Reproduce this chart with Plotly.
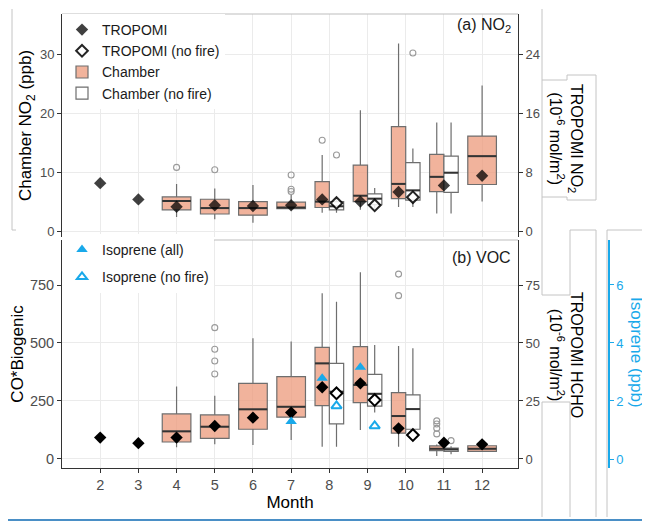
import plotly.graph_objects as go

# ---------------- DATA ----------------
months = [2, 3, 4, 5, 6, 7, 8, 9, 10, 11, 12]
month_ticks = [2, 3, 4, 5, 6, 7, 8, 9, 10, 11, 12]

# (a) NO2 chamber boxes (ppb)
no2_box_months = [4, 5, 6, 7, 8, 9, 10, 11, 12]
no2_lf = [2.4, 2.0, 1.4, 3.6, 3.1, 3.6, 4.1, 3.0, 5.0]
no2_q1 = [3.6, 2.9, 2.7, 3.8, 4.0, 5.0, 5.5, 6.7, 7.9]
no2_med = [5.1, 3.9, 3.9, 4.0, 5.0, 6.0, 8.0, 9.2, 12.7]
no2_q3 = [5.8, 5.4, 5.0, 4.9, 8.4, 11.2, 17.7, 13.0, 16.1]
no2_uf = [8.0, 7.2, 7.8, 6.1, 12.9, 20.5, 31.8, 18.4, 24.7]
no2_out_months = [4, 5, 7, 7, 7, 8]
no2_out_vals = [10.8, 10.4, 9.5, 7.1, 6.7, 15.4]

no2_nf_months = [8, 9, 10, 11]
no2_nf_lf = [3.1, 3.8, 4.1, 3.0]
no2_nf_q1 = [3.6, 4.5, 5.25, 6.55]
no2_nf_med = [4.2, 5.5, 6.9, 9.9]
no2_nf_q3 = [5.0, 6.3, 11.6, 12.7]
no2_nf_uf = [5.6, 7.3, 14.0, 18.4]
no2_nf_out_months = [8, 10]
no2_nf_out_vals = [12.9, 30.2]

# TROPOMI NO2 (1e-6 mol/m2)
trop_no2 = [6.5, 4.3, 3.3, 3.5, 3.4, 3.5, 4.3, 4.0, 5.3, 6.2, 7.5]
trop_nf_months = [8, 9, 10]
trop_no2_nf = [3.8, 3.5, 4.6]

# (b) VOC chamber boxes (CO*Biogenic)
voc_box_months = [4, 5, 6, 7, 8, 9, 10, 11, 12]
voc_lf = [50, 63, 60, 82, 53, 125, 53, 13, 30]
voc_q1 = [73, 89, 128, 180, 230, 243, 111, 36, 33]
voc_med = [119, 139, 214, 225, 412, 319, 185, 44, 44]
voc_q3 = [194, 190, 326, 355, 481, 484, 286, 56, 57]
voc_uf = [312, 273, 520, 506, 714, 805, 487, 62, 62]
voc_out_months = [5, 5, 5, 5, 10, 10, 11, 11, 11, 11]
voc_out_vals = [566, 473, 422, 366, 797, 704, 164, 151, 132, 108]

voc_nf_months = [8, 9, 10, 11]
voc_nf_lf = [53, 200, 110, 20]
voc_nf_q1 = [151, 228, 128, 33]
voc_nf_med = [290, 281, 215, 41]
voc_nf_q3 = [412, 365, 276, 47]
voc_nf_uf = [678, 491, 477, 55]
voc_nf_out_months = [11]
voc_nf_out_vals = [79]

# TROPOMI HCHO (1e-6 mol/m2)
trop_hcho = [9.2, 6.8, 9.2, 14.2, 17.8, 20.0, 30.9, 32.6, 13.2, 7.0, 6.3]
trop_hcho_nf = [28.3, 25.4, 10.3]

# Isoprene (ppb)
iso_months = [7, 8, 9]
iso_all = [1.29, 2.78, 3.16]
iso_nf_months = [8, 9]
iso_nf = [1.83, 1.14]

# ---------------- LAYOUT HELPERS ----------------
# page has an 8px body margin; figure is sized to fill the rest of the window
W, H = 642, 514
ML, MR, MT, MB = 54, 10, 6, 54
PW, PH = W - ML - MR, H - MT - MB


def px_x(px):  # page pixel -> paper coordinate
    return (px - 8 - ML) / PW


def px_y(py):
    return (H - MB - (py - 8)) / PH


XEND = px_x(518)
DODGE = 0.1875
BLUE = "#19a9ea"
CHAMBER_FILL = "rgba(236,150,118,0.72)"
BOX_LINE = "#6e6e6e"
OUT_COLOR = "#9a9a9a"
FONT = "Liberation Sans, Arial, sans-serif"

fig = go.Figure()


def dodge(ms, pair, side):
    return [m + side * DODGE if m in pair else m for m in ms]


def add_boxes(ms, lf, q1, med, q3, uf, pair, side, fill, xa, ya, name, rank, legend):
    first = True
    for want_pair, w in ((True, 0.375), (False, 0.75)):
        idx = [i for i, m in enumerate(ms) if (m in pair) == want_pair]
        if not idx:
            continue
        xs = [ms[i] + (side * DODGE if want_pair else 0) for i in idx]
        fig.add_trace(go.Box(
            x=xs, q1=[q1[i] for i in idx], median=[med[i] for i in idx],
            q3=[q3[i] for i in idx], lowerfence=[lf[i] for i in idx],
            upperfence=[uf[i] for i in idx], width=w, whiskerwidth=0,
            fillcolor=fill, line=dict(color=BOX_LINE, width=1.2),
            boxpoints=False, name=name, xaxis=xa, yaxis=ya,
            showlegend=(first and legend), legendrank=rank, legend="legend",
            hoverinfo="skip"))
        first = False
        # darker median lines
        mx, my = [], []
        for j, i in enumerate(idx):
            mx += [xs[j] - w / 2, xs[j] + w / 2, None]
            my += [med[i], med[i], None]
        fig.add_trace(go.Scatter(x=mx, y=my, mode="lines", xaxis=xa, yaxis=ya,
                                 line=dict(color="#333333", width=2),
                                 showlegend=False, hoverinfo="skip"))


def add_outliers(ms, vals, pair, side, xa, ya):
    fig.add_trace(go.Scatter(
        x=dodge(ms, pair, side), y=vals, mode="markers", xaxis=xa, yaxis=ya,
        marker=dict(symbol="circle-open", size=6, color=OUT_COLOR, line=dict(width=1.1)),
        showlegend=False, hoverinfo="skip"))


# ---- panel (a) ----
add_boxes(no2_box_months, no2_lf, no2_q1, no2_med, no2_q3, no2_uf, no2_nf_months, -1,
          CHAMBER_FILL, "x2", "y2", "Chamber", 3, True)
add_boxes(no2_nf_months, no2_nf_lf, no2_nf_q1, no2_nf_med, no2_nf_q3, no2_nf_uf, no2_nf_months, 1,
          "white", "x2", "y2", "Chamber (no fire)", 4, True)
add_outliers(no2_out_months, no2_out_vals, no2_nf_months, -1, "x2", "y2")
add_outliers(no2_nf_out_months, no2_nf_out_vals, no2_nf_months, 1, "x2", "y2")

fig.add_trace(go.Scatter(
    x=dodge(months, trop_nf_months, -1), y=trop_no2, mode="markers", xaxis="x2", yaxis="y4",
    marker=dict(symbol="diamond", size=9.5, color="black", opacity=0.75, line=dict(width=0)),
    name="TROPOMI", legend="legend", legendrank=1, hoverinfo="skip"))
fig.add_trace(go.Scatter(
    x=dodge(trop_nf_months, trop_nf_months, 1), y=trop_no2_nf, mode="markers", xaxis="x2", yaxis="y4",
    marker=dict(symbol="diamond", size=9, color="white", opacity=0.85,
                line=dict(color="black", width=2)),
    name="TROPOMI (no fire)", legend="legend", legendrank=2, hoverinfo="skip"))

# ---- panel (b) ----
add_boxes(voc_box_months, voc_lf, voc_q1, voc_med, voc_q3, voc_uf, voc_nf_months, -1,
          CHAMBER_FILL, "x", "y", "Chamber", 3, False)
add_boxes(voc_nf_months, voc_nf_lf, voc_nf_q1, voc_nf_med, voc_nf_q3, voc_nf_uf, voc_nf_months, 1,
          "white", "x", "y", "Chamber (no fire)", 4, False)
add_outliers(voc_out_months, voc_out_vals, voc_nf_months, -1, "x", "y")
add_outliers(voc_nf_out_months, voc_nf_out_vals, voc_nf_months, 1, "x", "y")

fig.add_trace(go.Scatter(
    x=dodge(months, trop_nf_months, -1), y=trop_hcho, mode="markers", xaxis="x", yaxis="y3",
    marker=dict(symbol="diamond", size=9.5, color="black", line=dict(width=0)),
    showlegend=False, hoverinfo="skip"))
fig.add_trace(go.Scatter(
    x=dodge(trop_nf_months, trop_nf_months, 1), y=trop_hcho_nf, mode="markers", xaxis="x", yaxis="y3",
    marker=dict(symbol="diamond", size=9, color="white", line=dict(color="black", width=2)),
    showlegend=False, hoverinfo="skip"))

fig.add_trace(go.Scatter(
    x=dodge(iso_months, iso_nf_months, -1), y=iso_all, mode="markers", xaxis="x", yaxis="y5",
    marker=dict(symbol="triangle-up", size=10, color=BLUE, line=dict(width=0)),
    name="Isoprene (all)", legend="legend2", legendgroup="a", hoverinfo="skip"))
fig.add_trace(go.Scatter(
    x=dodge(iso_nf_months, iso_nf_months, 1), y=iso_nf, mode="markers", xaxis="x", yaxis="y5",
    marker=dict(symbol="triangle-up-open", size=9, color=BLUE, line=dict(width=2, color=BLUE)),
    name="Isoprene (no fire)", legend="legend2", legendgroup="b", hoverinfo="skip"))

# ---------------- AXES ----------------
GRID = "#ebebeb"
TICKC = "#4d4d4d"
common_x = dict(domain=[0, XEND], range=[1.0, 12.94], tickvals=month_ticks, automargin=False,
                showgrid=True, gridcolor=GRID, gridwidth=1, zeroline=False)

axis_title_font = dict(family=FONT, size=17, color="black")
ytick = dict(showline=True, linecolor="#333333", ticks="outside", ticklen=4, tickcolor="#333333",
             zeroline=False, automargin=False)

fig.update_layout(
    width=W, height=H,
    margin=dict(l=ML, r=MR, t=MT, b=MB, autoexpand=False),
    paper_bgcolor="white", plot_bgcolor="white",
    font=dict(family=FONT, color="black"),
    xaxis=dict(**common_x, anchor="y", showline=True, linecolor="#333333", linewidth=1,
               ticks="outside", ticklen=4, tickcolor="#333333",
               tickfont=dict(size=14.5, color=TICKC),
               title=dict(text="Month", font=axis_title_font, standoff=0)),
    xaxis2=dict(**common_x, anchor="y2", matches="x", showticklabels=False, ticks="",
                showline=False),
    yaxis=dict(domain=[0, px_y(240)], anchor="x", range=[-39, 944],
               tickvals=[0, 250, 500, 750], showgrid=True, gridcolor=GRID, **ytick,
               tickfont=dict(size=14.5, color=TICKC),
               title=dict(text="CO*Biogenic", font=axis_title_font, standoff=2)),
    yaxis2=dict(domain=[px_y(237), 1], anchor="x2", range=[-1.0, 36.8],
                tickvals=[0, 10, 20, 30], showgrid=True, gridcolor=GRID, **ytick,
                tickfont=dict(size=13, color=TICKC),
                title=dict(text="Chamber NO<sub>2</sub> (ppb)", font=axis_title_font, standoff=3)),
    yaxis3=dict(overlaying="y", side="right", anchor="x", range=[-3.9, 94.4],
                tickvals=[0, 25, 50, 75], showgrid=False, **ytick,
                tickfont=dict(size=13, color=TICKC)),
    yaxis4=dict(overlaying="y2", side="right", anchor="x2", range=[-0.8, 29.44],
                tickvals=[0, 8, 16, 24], showgrid=False, **ytick,
                tickfont=dict(size=13, color=TICKC)),
    yaxis5=dict(overlaying="y", side="right", anchor="free", position=px_x(609),
                range=[-0.31, 7.55], tickvals=[0, 2, 4, 6], showgrid=False, zeroline=False,
                automargin=False,
                showline=True, linecolor=BLUE, linewidth=1.5, ticks="outside", ticklen=4,
                tickcolor=BLUE, tickfont=dict(size=13, color=BLUE)),
    legend=dict(x=0.0, y=1.0, xanchor="left", yanchor="top", bgcolor="white",
                font=dict(size=14, color="#1a1a1a"), tracegroupgap=0, itemsizing="trace",
                traceorder="normal"),
    legend2=dict(x=0.0, y=px_y(234), xanchor="left", yanchor="top", bgcolor="white",
                 font=dict(size=14, color="#1a1a1a"), tracegroupgap=6),
    boxmode="overlay",
)

# panel labels & right titles
ann = [
    dict(text="(a) NO<sub>2</sub>", x=px_x(513), y=px_y(26), xanchor="right", yanchor="middle",
         font=dict(size=16, color="#1a1a1a")),
    dict(text="(b) VOC", x=px_x(513), y=px_y(257), xanchor="right", yanchor="middle",
         font=dict(size=16, color="#1a1a1a")),
    dict(text="TROPOMI NO<sub>2</sub><br>(10<sup>-6</sup> mol/m<sup>2</sup>)", x=px_x(566), y=px_y(138),
         textangle=90, font=dict(size=16, color="black"), xanchor="center", yanchor="middle"),
    dict(text="TROPOMI HCHO<br>(10<sup>-6</sup> mol/m<sup>2</sup>)", x=px_x(566), y=px_y(355),
         textangle=90, font=dict(size=16, color="black"), xanchor="center", yanchor="middle"),
    dict(text="Isoprene (ppb)", x=px_x(637), y=px_y(352), textangle=90,
         font=dict(size=17, color=BLUE), xanchor="center", yanchor="middle"),
]
for a in ann:
    a.update(xref="paper", yref="paper", showarrow=False)
fig.update_layout(annotations=ann)

# frame lines and leftover decoration lines
shapes = []


def seg(x0, y0, x1, y1, color="#c4c4c4", width=1):
    shapes.append(dict(type="line", xref="paper", yref="paper",
                       x0=px_x(x0), y0=px_y(y0), x1=px_x(x1), y1=px_y(y1),
                       line=dict(color=color, width=width), layer="above"))


seg(62, 14, 518, 14, "#bdbdbd")
seg(62, 240, 518, 240, "#bdbdbd")
for s in [(542, 9, 542, 295), (542, 80, 567, 80), (567, 75, 596, 75), (567, 75, 567, 80),
          (596, 75, 596, 200), (567, 200, 596, 200), (567, 197, 567, 200), (542, 197, 567, 197),
          (570, 230, 596, 230), (570, 230, 570, 295), (596, 230, 596, 517), (542, 295, 570, 295),
          (542, 402, 570, 402), (542, 402, 542, 517), (570, 402, 570, 517),
          (607, 230, 607, 517), (607, 230, 645, 230), (12, 9, 12, 230), (12, 230, 16, 230)]:
    seg(*s)
seg(8, 520, 650, 520, "#4a8fc6", 2)
fig.update_layout(shapes=shapes)

fig.write_html("out.html")
